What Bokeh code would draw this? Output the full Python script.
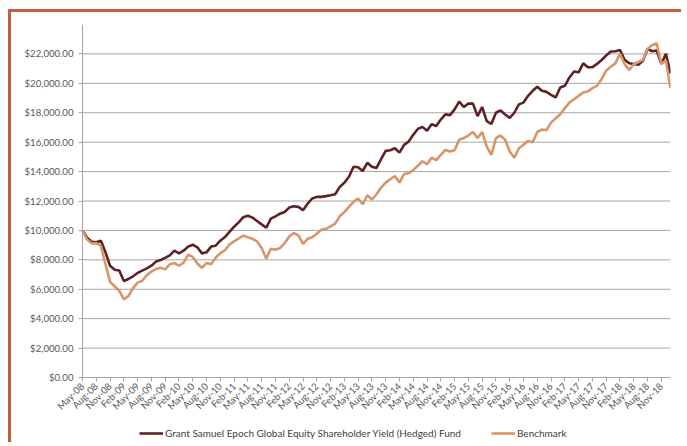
from math import pi
from bokeh.plotting import figure
from bokeh.models import (Range1d, FixedTicker, NumeralTickFormatter, Legend, LegendItem)
from bokeh.layouts import column
from bokeh.embed import file_html
from bokeh.resources import INLINE

tick_labels = ["May-08", "Aug-08", "Nov-08", "Feb-09", "May-09", "Aug-09", "Nov-09",
               "Feb-10", "May-10", "Aug-10", "Nov-10", "Feb-11", "May-11", "Aug-11", "Nov-11",
               "Feb-12", "May-12", "Aug-12", "Nov-12", "Feb-13", "May-13", "Aug-13", "Nov-13",
               "Feb-14", "May-14", "Aug-14", "Nov-14", "Feb-15", "May-15", "Aug-15", "Nov-15",
               "Feb-16", "May-16", "Aug-16", "Nov-16", "Feb-17", "May-17", "Aug-17", "Nov-17",
               "Feb-18", "May-18", "Aug-18", "Nov-18"]

fund = [10000, 9500, 9230, 9190, 9300, 8510, 7600, 7330, 7270, 6560,
        6700, 6880, 7110, 7270, 7420, 7600, 7880, 7990, 8130, 8300,
        8620, 8440, 8620, 8900, 9030, 8850, 8440, 8510, 8900, 8960,
        9300, 9550, 9900, 10250, 10550, 10900, 11000, 10870, 10640, 10410,
        10180, 10800, 10960, 11140, 11250, 11550, 11640, 11600, 11370, 11820,
        12170, 12280, 12280, 12330, 12390, 12460, 12960, 13240, 13650, 14330,
        14290, 14040, 14600, 14330, 14250, 14840, 15410, 15450, 15590, 15290,
        15820, 16040, 16500, 16900, 17040, 16770, 17220, 17100, 17540, 17890,
        17840, 18230, 18760, 18390, 18620, 18620, 17770, 18390, 17430, 17240,
        18000, 18160, 17880, 17650, 18000, 18570, 18690, 19150, 19490, 19770,
        19490, 19420, 19220, 19040, 19720, 19830, 20400, 20810, 20750, 21360,
        21090, 21090, 21320, 21590, 21890, 22160, 22180, 22270, 21600, 21360,
        21320, 21270, 21540, 22340, 22180, 22230, 21320, 22000, 20680]

benchmark = [10000, 9380, 9120, 9130, 8950, 7700, 6500, 6200, 5900, 5310,
             5540, 6080, 6450, 6580, 6950, 7200, 7380, 7470, 7350, 7700,
             7780, 7600, 7800, 8350, 8200, 7750, 7450, 7780, 7700, 8150,
             8450, 8650, 9050, 9250, 9450, 9650, 9540, 9430, 9250, 8800,
             8080, 8750, 8680, 8800, 9130, 9590, 9820, 9660, 9090, 9430,
             9540, 9770, 10050, 10110, 10270, 10460, 10960, 11250, 11600, 11940,
             12170, 11780, 12390, 12100, 12460, 12910, 13250, 13480, 13700, 13250,
             13820, 13900, 14100, 14400, 14700, 14500, 14940, 14780, 15130, 15470,
             15360, 15450, 16160, 16280, 16460, 16690, 16280, 16690, 15700, 15130,
             16280, 16460, 16160, 15360, 14940, 15590, 15820, 16090, 16000, 16690,
             16850, 16820, 17330, 17620, 17900, 18310, 18690, 18920, 19150, 19380,
             19450, 19670, 19830, 20290, 20860, 21130, 21360, 22000, 21320, 20910,
             21300, 21450, 21600, 22340, 22600, 22730, 21320, 21550, 19670]

series_names = ["Grant Samuel Epoch Global Equity Shareholder Yield (Hedged) Fund", "Benchmark"]
y_ticks = [0, 2000, 4000, 6000, 8000, 10000, 12000, 14000, 16000, 18000, 20000, 22000]
y_top = 24000

months = list(range(len(fund)))
x_last = len(fund) - 1
tick_pos = list(range(0, 3 * len(tick_labels), 3))

FONT = "Lato"
TXT = "#595959"
GRID = "#A6A6A6"

# frame holds the plot area plus room on the left (tick labels) and below (labels, legend)
plot_h_px, frame_h_px = 353, 416
plot_w_px, left_pad_px = 588, 68
y_bottom = -y_top * (frame_h_px - plot_h_px) / plot_h_px
x_left = -x_last * left_pad_px / plot_w_px

p = figure(width=670, height=430, output_backend="svg", toolbar_location=None,
           x_range=Range1d(x_left, x_last), y_range=Range1d(y_bottom, y_top),
           min_border_left=3, min_border_right=11, min_border_top=12, min_border_bottom=2)
p.outline_line_color = None
p.background_fill_color = "white"
p.border_fill_color = "white"
p.xgrid.visible = False
p.ygrid.visible = False

# horizontal gridlines across the plot area only
grid_y = y_ticks[1:]
p.segment(x0=[0] * len(grid_y), x1=[x_last] * len(grid_y), y0=grid_y, y1=grid_y,
          line_color=GRID, line_width=1, level="underlay")

r1 = p.line(months, fund, line_color="#5E2226", line_width=2.6)
r2 = p.line(months, benchmark, line_color="#D9956A", line_width=2.6)

p.yaxis.ticker = FixedTicker(ticks=y_ticks)
p.yaxis.formatter = NumeralTickFormatter(format="$0,0.00")
p.yaxis.bounds = (0, y_top)
p.yaxis.fixed_location = 0
p.xaxis.ticker = FixedTicker(ticks=tick_pos)
p.xaxis.major_label_overrides = {pos: lab for pos, lab in zip(tick_pos, tick_labels)}
p.xaxis.major_label_orientation = pi / 4
p.xaxis.bounds = (0, x_last)
p.xaxis.fixed_location = 0

for ax in (p.xaxis, p.yaxis):
    ax.axis_line_color = GRID
    ax.axis_line_width = 1
    ax.major_tick_line_color = GRID
    ax.major_tick_out = 4
    ax.major_tick_in = 0
    ax.minor_tick_line_color = None
    ax.major_label_text_font = FONT
    ax.major_label_text_font_size = "9.6px"
    ax.major_label_text_color = TXT
p.yaxis.major_label_standoff = 5
p.xaxis.major_label_standoff = 3

legend = Legend(items=[LegendItem(label=series_names[0], renderers=[r1]),
                       LegendItem(label=series_names[1], renderers=[r2])],
                orientation="horizontal", location=(125, 1), padding=0, margin=0,
                spacing=30, glyph_width=24, glyph_height=12, label_height=12,
                label_standoff=2, border_line_color=None, background_fill_alpha=0,
                label_text_font=FONT, label_text_font_size="10px",
                label_text_color="#404040")
p.add_layout(legend)

layout = column(p, margin=(9, 0, 0, 8),
                styles={"border-left": "3px solid #C0603A", "border-top": "3px solid #C0603A"})

open("out.html", "w").write(file_html(layout, INLINE))
